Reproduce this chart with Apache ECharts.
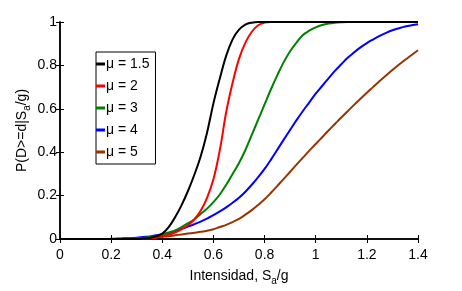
<!DOCTYPE html>
<html>
<head>
<meta charset="utf-8">
<script src="https://cdn.jsdelivr.net/npm/echarts@6/dist/echarts.min.js"></script>
<style>
html, body { margin: 0; padding: 0; background: #fff; }
#chart { width: 462px; height: 291px; }
</style>
</head>
<body>
<div id="chart"></div>
<script>
// intensidad Sa/g
var xs = [0,0.025,0.05,0.075,0.1,0.125,0.15,0.175,0.2,0.225,0.25,0.275,0.3,0.325,0.35,0.375,0.4,0.425,0.45,0.475,
    0.5,0.525,0.55,0.575,0.6,0.625,0.65,0.675,0.7,0.725,0.75,0.775,0.8,0.825,0.85,0.875,0.9,0.925,0.95,0.975,
    1,1.025,1.05,1.075,1.1,1.125,1.15,1.175,1.2,1.225,1.25,1.275,1.3,1.325,1.35,1.375,1.4];

var mu15 = [0,0,0,0,0,0,0,0,0,0,0,0,0,
    0.002,0.005,0.012,0.025,0.055,0.10,0.155,0.22,0.295,0.38,0.49,0.625,0.74,0.845,0.92,0.965,0.988,0.997,1,
    1,1,1,1,1,1,1,1,1,1,1,1,1,1,1,1,1,1,1,1,1,1,1,1,1];
var mu2 = [0,0,0,0,0,0,0,0,0,0,0,0,0.001,
    0.002,0.003,0.007,0.012,0.02,0.03,0.045,0.063,0.09,0.13,0.19,0.275,0.41,0.585,0.72,0.83,0.905,0.955,0.985,0.997,1,
    1,1,1,1,1,1,1,1,1,1,1,1,1,1,1,1,1,1,1,1,1,1,1];
var mu3 = [0,0,0,0,0,0,0,0,0,0,
    0.001,0.002,0.003,0.005,0.008,0.013,0.02,0.03,0.04,0.055,
    0.072,0.09,0.115,0.14,0.17,0.205,0.25,0.30,0.35,0.41,
    0.48,0.55,0.62,0.69,0.755,0.815,0.865,0.905,0.94,0.96,
    0.975,0.986,0.993,0.997,0.999,1,
    1,1,1,1,1,1,1,1,1,1,1];
var mu4 = [0,0,0,0,0,0,0,0,
    0.001,0.002,0.003,0.004,0.006,0.009,0.012,0.017,0.022,0.028,
    0.036,0.046,0.057,0.068,0.08,0.094,0.11,0.127,0.146,0.167,
    0.19,0.218,0.25,0.285,0.323,0.366,0.412,0.458,0.503,0.548,
    0.59,0.63,0.67,0.705,0.74,0.775,0.805,0.835,0.86,0.883,
    0.903,0.92,0.936,0.95,0.962,0.971,0.979,0.985,0.99];
var mu5 = [0,0,0,0,0,0,0,0,0,0,
    0.001,0.001,0.002,0.003,0.005,0.007,0.01,0.013,0.017,0.021,
    0.025,0.029,0.033,0.038,0.045,0.055,0.065,0.078,0.093,0.112,
    0.133,0.157,0.183,0.213,0.245,0.277,0.31,0.343,0.375,0.407,
    0.438,0.469,0.5,0.53,0.56,0.589,0.618,0.646,0.674,0.701,
    0.728,0.754,0.779,0.803,0.826,0.848,0.87];

var names = ['μ = 1.5', 'μ = 2', 'μ = 3', 'μ = 4', 'μ = 5'];
var colors = ['#000000', '#ff0000', '#008000', '#0000ff', '#993300'];

var chart = echarts.init(document.getElementById('chart'));

function pairs(ys) {
    return xs.map(function (x, i) { return [x, ys[i]]; });
}

var font = 'Liberation Sans';
var axisLine = { show: true, lineStyle: { color: '#000', width: 1.5 } };
var tick = { show: true, inside: true, length: 4, lineStyle: { color: '#000', width: 1 } };
var subRich = { sub: { fontSize: 10, fontFamily: font, color: '#000', padding: [10, 0, 0, 0] } };

var option = {
    animation: false,
    color: colors,
    grid: { left: 60, right: 44, top: 22, bottom: 45 },
    legend: {
        data: names,
        orient: 'vertical',
        left: 96,
        top: 52,
        width: 55,
        padding: [5, 6, 5, 0],
        itemGap: 8,
        itemWidth: 9,
        itemHeight: 3,
        icon: 'rect',
        borderColor: '#000',
        borderWidth: 1,
        backgroundColor: '#fff',
        textStyle: { color: '#000', fontSize: 14, fontFamily: font, padding: [0, 0, 0, -4] }
    },
    xAxis: [
        {
            type: 'value', min: 0, max: 1.4, interval: 0.2,
            axisLine: axisLine, axisTick: tick, splitLine: { show: false },
            axisLabel: {
                color: '#000', fontSize: 14, fontFamily: font, margin: 9,
                formatter: function (v) { return String(Math.round(v * 10) / 10); }
            },
            name: 'Intensidad, S{sub|a}/g',
            nameLocation: 'middle',
            nameGap: 27,
            nameTextStyle: { color: '#000', fontSize: 14, fontFamily: font, rich: subRich }
        },
        {
            type: 'value', min: 0, max: 1.4, interval: 0.2, position: 'top',
            axisLine: axisLine, axisTick: tick, axisLabel: { show: false }, splitLine: { show: false }
        }
    ],
    yAxis: [
        {
            type: 'value', min: 0, max: 1, interval: 0.2,
            axisLine: axisLine, axisTick: tick, splitLine: { show: false },
            axisLabel: {
                color: '#000', fontSize: 14, fontFamily: font, margin: 3,
                formatter: function (v) { return String(Math.round(v * 10) / 10); }
            },
            name: 'P(D>=d|S{sub|a}/g)',
            nameLocation: 'middle',
            nameGap: 28,
            nameMoveOverlap: false,
            nameTextStyle: { color: '#000', fontSize: 14, fontFamily: font, rich: subRich }
        },
        {
            type: 'value', min: 0, max: 1, interval: 0.2, position: 'right',
            axisLine: axisLine, axisTick: tick, axisLabel: { show: false }, splitLine: { show: false }
        }
    ],
    series: [mu15, mu2, mu3, mu4, mu5].map(function (ys, k) {
        return {
            name: names[k],
            type: 'line',
            data: pairs(ys),
            smooth: 0.4,
            showSymbol: false,
            lineStyle: { width: 2, color: colors[k] },
            z: 10 - k
        };
    })
};

chart.setOption(option);
</script>
</body>
</html>
